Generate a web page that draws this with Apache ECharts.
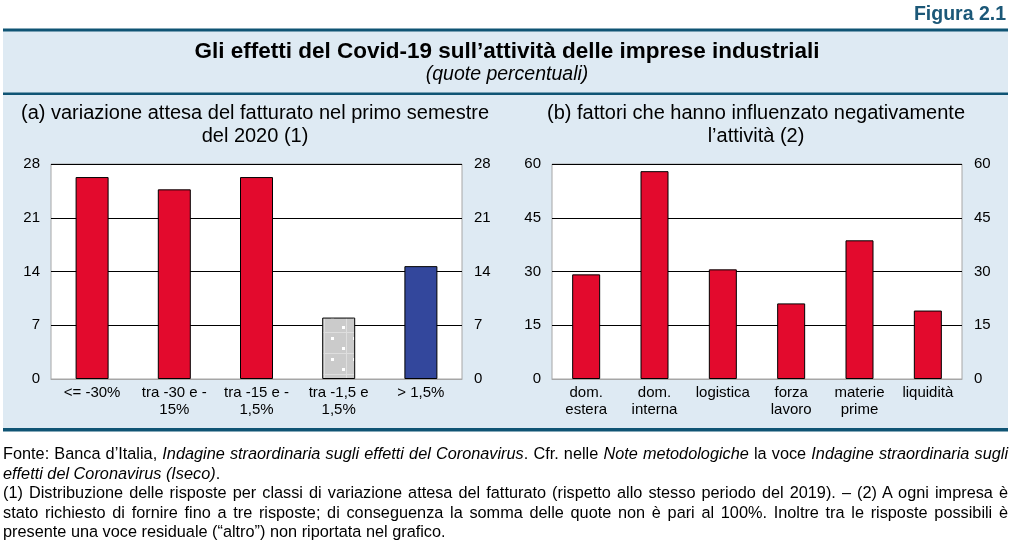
<!DOCTYPE html>
<html>
<head>
<meta charset="utf-8">
<script src="https://cdn.jsdelivr.net/npm/echarts@6/dist/echarts.min.js"></script>
<style>
body { margin: 0; background: #fff; }
#main { width: 1014px; height: 554px; }
#note { position: absolute; left: 3px; top: 444px; width: 1005px;
        font: 16.3px 'Liberation Sans', Arial, sans-serif; line-height: 19.5px; color: #000; }
#note div { white-space: nowrap; }
#note .j { text-align: justify; text-align-last: justify; }
</style>
</head>
<body>
<div id="main"></div>
<div id="note">
  <div class="j">Fonte: Banca d’Italia, <i>Indagine straordinaria sugli effetti del Coronavirus</i>. Cfr. nelle <i>Note metodologiche</i> la voce <i>Indagine straordinaria sugli</i></div>
  <div><i>effetti del Coronavirus (Iseco)</i>.</div>
  <div class="j">(1) Distribuzione delle risposte per classi di variazione attesa del fatturato (rispetto allo stesso periodo del 2019). – (2) A ogni impresa è</div>
  <div class="j">stato richiesto di fornire fino a tre risposte; di conseguenza la somma delle quote non è pari al 100%. Inoltre tra le risposte possibili è</div>
  <div>presente una voce residuale (“altro”) non riportata nel grafico.</div>
</div>
<script>
var myChart = echarts.init(document.getElementById('main'));

// pannello (a): variazione attesa del fatturato
var catA = ['<= -30%', 'tra -30 e -\n15%', 'tra -15 e -\n1,5%', 'tra -1,5 e\n1,5%', '> 1,5%'];
var valA = [26.3, 24.7, 26.3, 8.0, 14.7];
var ticksA = [0, 7, 14, 21, 28];

// pannello (b): fattori che hanno influenzato negativamente l'attività
var catB = ['dom.\nestera', 'dom.\ninterna', 'logistica', 'forza\nlavoro', 'materie\nprime', 'liquidità'];
var valB = [29.2, 58.0, 30.6, 21.1, 38.7, 19.1];
var ticksB = [0, 15, 30, 45, 60];

var RED = '#E30A2D';
var BLUE = '#33479C';
var FONT = "'Liberation Sans', Arial, sans-serif";

// grigio puntinato per la classe centrale
function dotPattern() {
    var c = document.createElement('canvas');
    c.width = 22; c.height = 21;
    var g = c.getContext('2d');
    g.fillStyle = '#cbcbcb';
    g.fillRect(0, 0, 22, 21);
    g.fillStyle = '#dedede';
    g.fillRect(16, 0, 1, 21);
    g.fillRect(0, 17, 22, 1);
    g.fillStyle = '#ffffff';
    g.fillRect(1, 1, 3, 3);
    g.fillRect(12, 11, 3, 3);
    return c;
}
var colorsA = [RED, RED, RED, { image: dotPattern(), repeat: 'repeat' }, BLUE];

function valueAxis(grid, pos, ticks, split) {
    return {
        type: 'value',
        gridIndex: grid,
        position: pos,
        min: ticks[0],
        max: ticks[ticks.length - 1],
        interval: ticks[1] - ticks[0],
        axisLine: { show: false },
        axisTick: { show: false },
        axisLabel: { color: '#000', fontSize: 15, fontFamily: FONT, margin: pos == 'left' ? 11 : 12 },
        splitLine: { show: split, lineStyle: { color: '#000', width: 1 } }
    };
}

function catAxis(grid, cats) {
    return {
        type: 'category',
        gridIndex: grid,
        data: cats,
        axisLine: { lineStyle: { color: '#a6a6a6', width: 1 } },
        axisTick: { show: false },
        axisLabel: { color: '#000', fontSize: 15, fontFamily: FONT, lineHeight: 17, margin: 5, interval: 0 }
    };
}

function headText(x, y, text, font) {
    return { type: 'text', x: x, y: y,
        style: { text: text, font: font, fill: '#000', textAlign: 'center', textVerticalAlign: 'middle' } };
}

option = {
    animation: false,
    backgroundColor: '#fff',
    graphic: [
        { type: 'rect', shape: { x: 3, y: 31, width: 1005, height: 397 }, style: { fill: '#DEEAF3' }, z: -10 },
        { type: 'rect', shape: { x: 3, y: 28.5, width: 1005, height: 3 }, style: { fill: '#0F5474' } },
        { type: 'rect', shape: { x: 3, y: 92.5, width: 1005, height: 2.5 }, style: { fill: '#0F5474' } },
        { type: 'rect', shape: { x: 3, y: 428, width: 1005, height: 3.5 }, style: { fill: '#0F5474' } },
        { type: 'text', x: 1006, y: 15,
          style: { text: 'Figura 2.1', font: 'bold 19.5px ' + FONT, fill: '#1C5878', textAlign: 'right', textVerticalAlign: 'middle' } },
        headText(507, 52, 'Gli effetti del Covid-19 sull’attività delle imprese industriali', 'bold 22.5px ' + FONT),
        headText(507, 75, '(quote percentuali)', 'italic 19.5px ' + FONT),
        headText(255, 113, '(a) variazione attesa del fatturato nel primo semestre', '20px ' + FONT),
        headText(255, 136, 'del 2020 (1)', '20px ' + FONT),
        headText(756, 113, '(b) fattori che hanno influenzato negativamente', '20px ' + FONT),
        headText(756, 136, 'l’attività (2)', '20px ' + FONT)
    ],
    grid: [
        { left: 51, right: 552, top: 164, bottom: 175, show: true, backgroundColor: '#fff', borderColor: '#a6a6a6', borderWidth: 1 },
        { left: 552, right: 52, top: 164, bottom: 175, show: true, backgroundColor: '#fff', borderColor: '#a6a6a6', borderWidth: 1 }
    ],
    xAxis: [catAxis(0, catA), catAxis(1, catB)],
    yAxis: [
        valueAxis(0, 'left', ticksA, true),
        valueAxis(0, 'right', ticksA, false),
        valueAxis(1, 'left', ticksB, true),
        valueAxis(1, 'right', ticksB, false)
    ],
    series: [
        {
            type: 'bar',
            xAxisIndex: 0,
            yAxisIndex: 0,
            barWidth: 33,
            data: valA.map(function (v, i) {
                return { value: v, itemStyle: { color: colorsA[i] } };
            }),
            itemStyle: { borderColor: '#000', borderWidth: 1 }
        },
        {
            type: 'bar',
            xAxisIndex: 1,
            yAxisIndex: 2,
            barWidth: 28,
            data: valB,
            itemStyle: { color: RED, borderColor: '#000', borderWidth: 1 }
        }
    ]
};

myChart.setOption(option);
</script>
</body>
</html>
